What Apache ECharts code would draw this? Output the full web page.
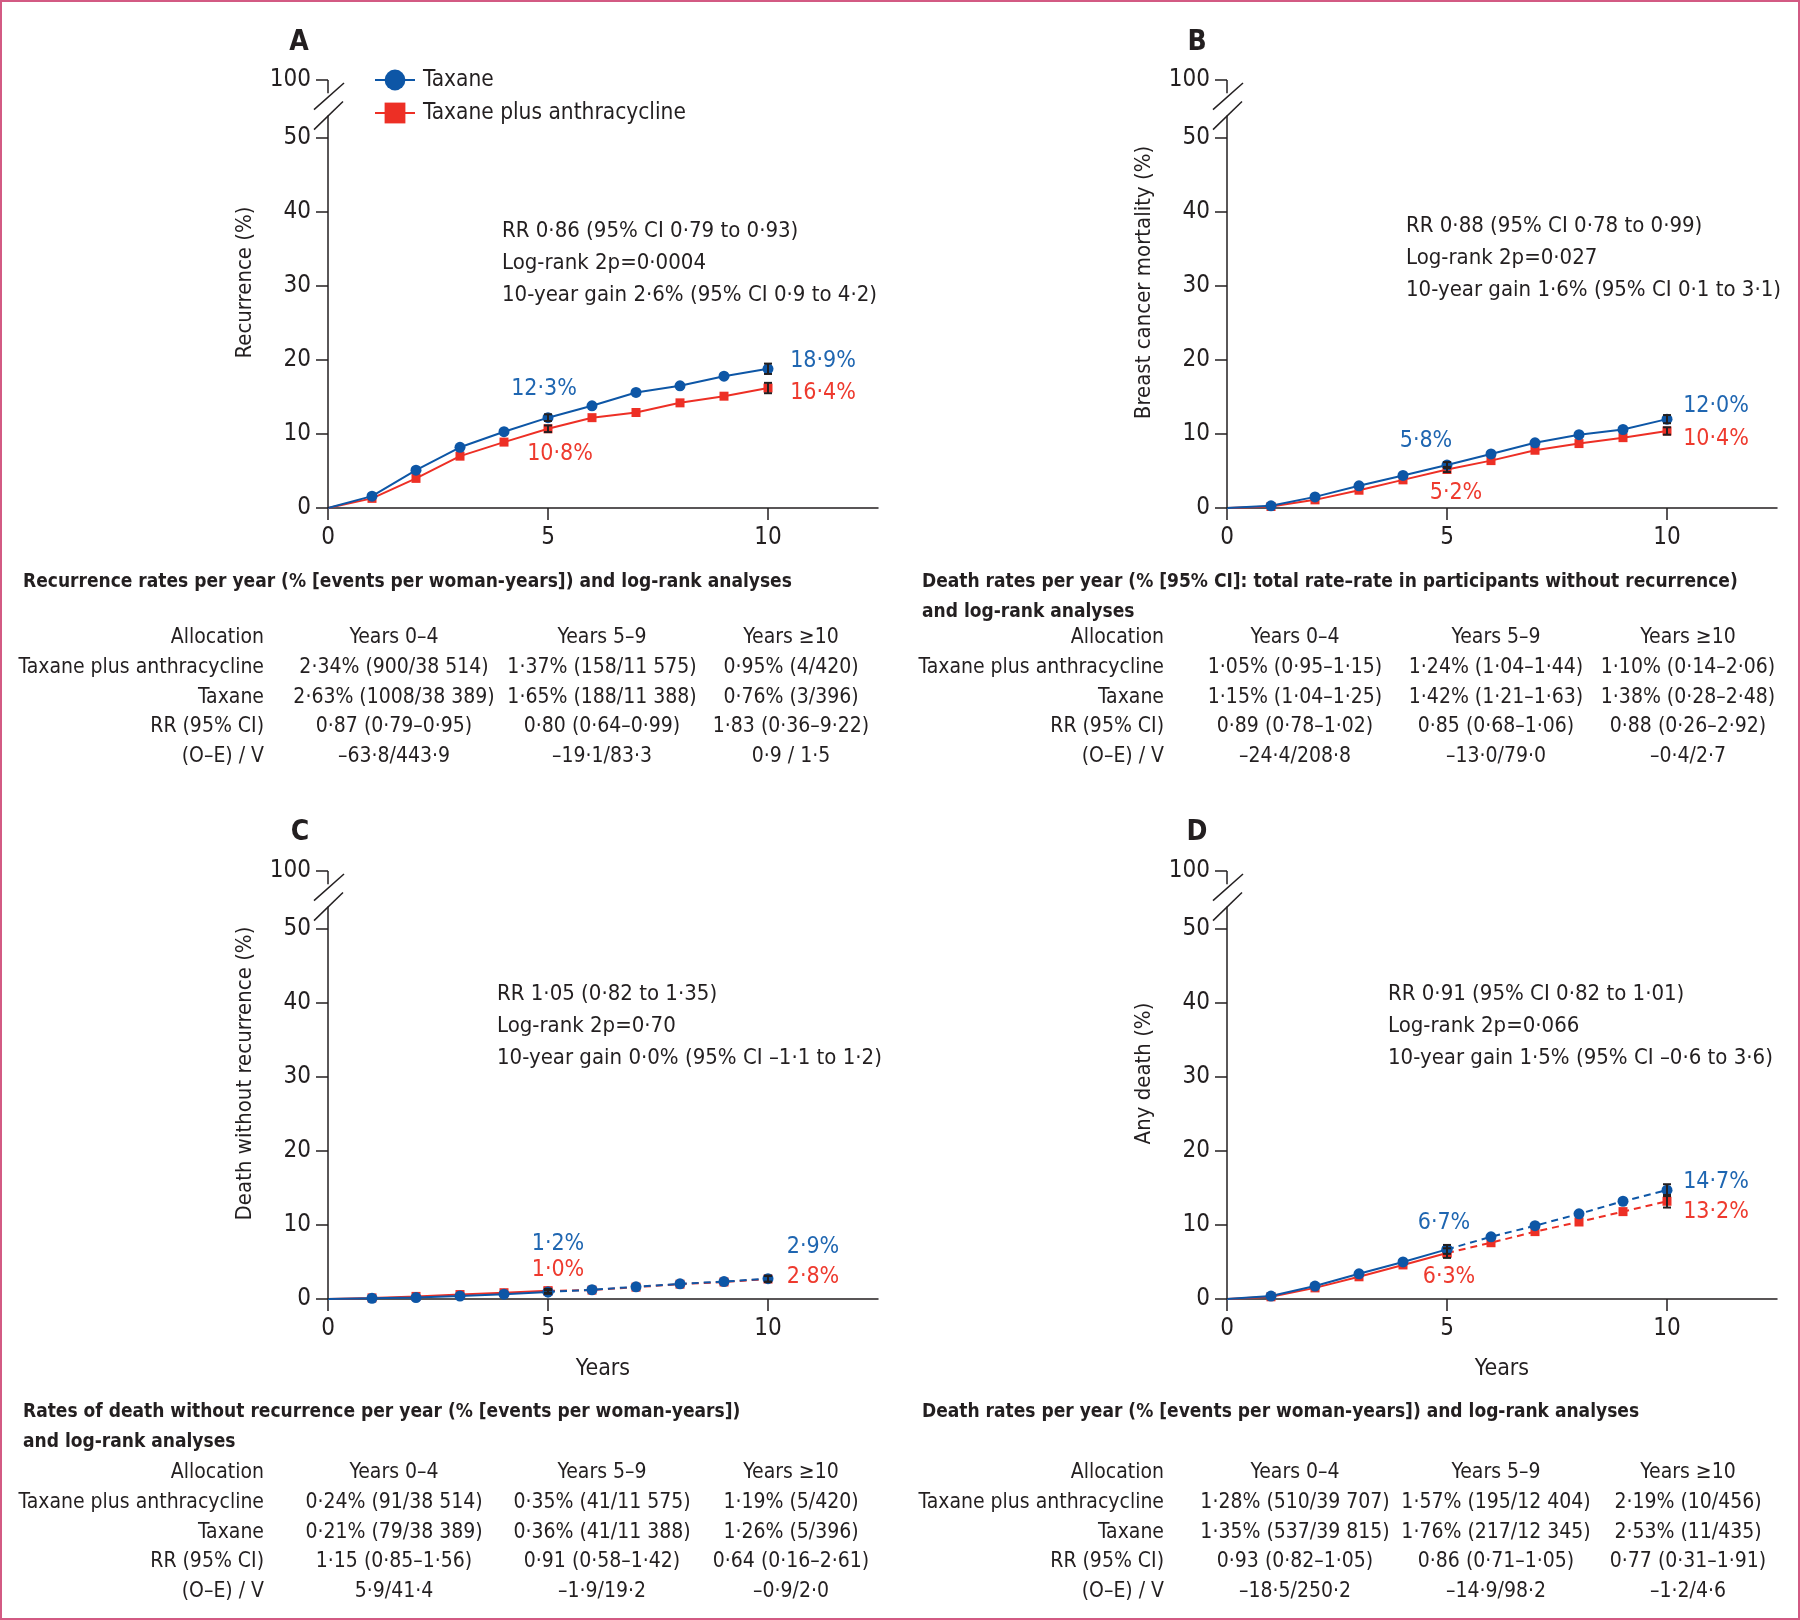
<!DOCTYPE html>
<html>
<head>
<meta charset="utf-8">
<script src="https://cdn.jsdelivr.net/npm/echarts@6/dist/echarts.min.js"></script>
<style>
html, body { margin: 0; padding: 0; background: #fff; }
#main { position: absolute; left: 0; top: 0; width: 1800px; height: 1620px; }
#frame { position: absolute; left: 0; top: 0; width: 1800px; height: 1620px; box-sizing: border-box; border: 2px solid #d35a83; pointer-events: none; }
</style>
</head>
<body>
<div id="main"></div>
<div id="frame"></div>
<script>
// data (cumulative %, by year)
var years = [0, 1, 2, 3, 4, 5, 6, 7, 8, 9, 10];

var recurTaxane = [0, 1.6, 5.1, 8.2, 10.3, 12.2, 13.8, 15.6, 16.5, 17.8, 18.8];
var recurTaxAnth = [0, 1.3, 4.0, 7.0, 8.9, 10.7, 12.2, 12.9, 14.2, 15.1, 16.2];
var bcmTaxane = [0, 0.3, 1.5, 3.0, 4.4, 5.8, 7.3, 8.8, 9.9, 10.6, 12.0];
var bcmTaxAnth = [0, 0.2, 1.1, 2.4, 3.8, 5.2, 6.4, 7.8, 8.7, 9.5, 10.4];
var dwrTaxane = [0, 0.1, 0.2, 0.4, 0.65, 0.95, 1.25, 1.65, 2.05, 2.35, 2.75];
var dwrTaxAnth = [0, 0.15, 0.35, 0.6, 0.85, 1.1, 1.2, 1.6, 2.0, 2.3, 2.7];
var anyTaxane = [0, 0.4, 1.75, 3.4, 5.0, 6.7, 8.4, 9.9, 11.5, 13.2, 14.7];
var anyTaxAnth = [0, 0.3, 1.5, 3.0, 4.6, 6.2, 7.6, 9.1, 10.4, 11.8, 13.2];

// error bars [year, low, high]
var errRecurTaxane = [[5, 11.75, 12.65], [10, 18.1, 19.5]];
var errRecurTaxAnth = [[5, 10.25, 11.15], [10, 15.5, 16.9]];
var errBcmTaxane = [[5, 5.4, 6.2], [10, 11.45, 12.55]];
var errBcmTaxAnth = [[5, 4.85, 5.55], [10, 9.9, 10.9]];
var errDwrTaxane = [[5, 0.7, 1.2], [10, 2.35, 3.15]];
var errDwrTaxAnth = [[5, 0.85, 1.35], [10, 2.3, 3.1]];
var errAnyTaxane = [[5, 6.1, 7.3], [10, 13.9, 15.5]];
var errAnyTaxAnth = [[5, 5.55, 6.85], [10, 12.35, 14.05]];

// taxane@5, taxane@10, tax+anth@5, tax+anth@10
var recurLabels = ['12·3%', '18·9%', '10·8%', '16·4%'];
var bcmLabels = ['5·8%', '12·0%', '5·2%', '10·4%'];
var dwrLabels = ['1·2%', '2·9%', '1·0%', '2·8%'];
var anyLabels = ['6·7%', '14·7%', '6·3%', '13·2%'];

var xTicks = [0, 5, 10];
var yTicks = [0, 10, 20, 30, 40, 50];
var seriesNames = ['Taxane', 'Taxane plus anthracycline'];
var yTitles = ['Recurrence (%)', 'Breast cancer mortality (%)', 'Death without recurrence (%)', 'Any death (%)'];
var panelLetters = ['A', 'B', 'C', 'D'];

var recurStats = ['RR 0·86 (95% CI 0·79 to 0·93)', 'Log-rank 2p=0·0004', '10-year gain 2·6% (95% CI 0·9 to 4·2)'];
var bcmStats = ['RR 0·88 (95% CI 0·78 to 0·99)', 'Log-rank 2p=0·027', '10-year gain 1·6% (95% CI 0·1 to 3·1)'];
var dwrStats = ['RR 1·05 (0·82 to 1·35)', 'Log-rank 2p=0·70', '10-year gain 0·0% (95% CI –1·1 to 1·2)'];
var anyStats = ['RR 0·91 (95% CI 0·82 to 1·01)', 'Log-rank 2p=0·066', '10-year gain 1·5% (95% CI –0·6 to 3·6)'];

var tableHead = ['Allocation', 'Years 0–4', 'Years 5–9', 'Years ≥10'];
var rowNames = ['Taxane plus anthracycline', 'Taxane', 'RR (95% CI)', '(O–E) / V'];
var recurTitle = 'Recurrence rates per year (% [events per woman-years]) and log-rank analyses';
var bcmTitle = 'Death rates per year (% [95% CI]: total rate–rate in participants without recurrence)\nand log-rank analyses';
var dwrTitle = 'Rates of death without recurrence per year (% [events per woman-years])\nand log-rank analyses';
var anyTitle = 'Death rates per year (% [events per woman-years]) and log-rank analyses';
var recurTable = [
    ['2·34% (900/38 514)', '1·37% (158/11 575)', '0·95% (4/420)'],
    ['2·63% (1008/38 389)', '1·65% (188/11 388)', '0·76% (3/396)'],
    ['0·87 (0·79–0·95)', '0·80 (0·64–0·99)', '1·83 (0·36–9·22)'],
    ['–63·8/443·9', '–19·1/83·3', '0·9 / 1·5']
];
var bcmTable = [
    ['1·05% (0·95–1·15)', '1·24% (1·04–1·44)', '1·10% (0·14–2·06)'],
    ['1·15% (1·04–1·25)', '1·42% (1·21–1·63)', '1·38% (0·28–2·48)'],
    ['0·89 (0·78–1·02)', '0·85 (0·68–1·06)', '0·88 (0·26–2·92)'],
    ['–24·4/208·8', '–13·0/79·0', '–0·4/2·7']
];
var dwrTable = [
    ['0·24% (91/38 514)', '0·35% (41/11 575)', '1·19% (5/420)'],
    ['0·21% (79/38 389)', '0·36% (41/11 388)', '1·26% (5/396)'],
    ['1·15 (0·85–1·56)', '0·91 (0·58–1·42)', '0·64 (0·16–2·61)'],
    ['5·9/41·4', '–1·9/19·2', '–0·9/2·0']
];
var anyTable = [
    ['1·28% (510/39 707)', '1·57% (195/12 404)', '2·19% (10/456)'],
    ['1·35% (537/39 815)', '1·76% (217/12 345)', '2·53% (11/435)'],
    ['0·93 (0·82–1·05)', '0·86 (0·71–1·05)', '0·77 (0·31–1·91)'],
    ['–18·5/250·2', '–14·9/98·2', '–1·2/4·6']
];

// styling / layout
var FONT = "'DejaVu Sans Condensed', 'Liberation Sans Narrow', 'Liberation Sans', sans-serif";
var INK = '#231f20';
var BLUE = '#0d56a6';
var RED = '#ed2f25';
var BLUE_TXT = '#1f66b1';
var RED_TXT = '#ee3a2e';
var X_MAX = 12.5;
var BREAK_TOP = 57.8;   // where the "100" tick sits above the axis break

var panels = [
    { left: 328, top: 80, tax: recurTaxane, anth: recurTaxAnth, errTax: errRecurTaxane, errAnth: errRecurTaxAnth,
      labels: recurLabels, offs: [[-4, -29], [55, -8], [12, 25], [55, 5]], dashed: false,
      stats: recurStats, statPos: [502, 215], title: recurTitle, table: recurTable, tableTop: 582, headY: 638,
      cols: [264, 394, 602, 791], letterPos: [299, 43] },
    { left: 1227, top: 80, tax: bcmTaxane, anth: bcmTaxAnth, errTax: errBcmTaxane, errAnth: errBcmTaxAnth,
      labels: bcmLabels, offs: [[-21, -24], [49, -13], [9, 24], [49, 8]], dashed: false,
      stats: bcmStats, statPos: [1406, 210], title: bcmTitle, table: bcmTable, tableTop: 582, headY: 638,
      cols: [1164, 1295, 1496, 1688], letterPos: [1197, 43] },
    { left: 328, top: 871, tax: dwrTaxane, anth: dwrTaxAnth, errTax: errDwrTaxane, errAnth: errDwrTaxAnth,
      labels: dwrLabels, offs: [[10, -48], [45, -32], [10, -21], [45, -2]], dashed: true,
      stats: dwrStats, statPos: [497, 978], title: dwrTitle, table: dwrTable, tableTop: 1412, headY: 1473,
      cols: [264, 394, 602, 791], letterPos: [300, 833] },
    { left: 1227, top: 871, tax: anyTaxane, anth: anyTaxAnth, errTax: errAnyTaxane, errAnth: errAnyTaxAnth,
      labels: anyLabels, offs: [[-3, -26], [49, -8], [2, 24], [49, 11]], dashed: true,
      stats: anyStats, statPos: [1388, 978], title: anyTitle, table: anyTable, tableTop: 1412, headY: 1473,
      cols: [1164, 1295, 1496, 1688], letterPos: [1197, 833] }
];
var GRID_W = 550, GRID_H = 428, ROW_H = 29.6;

function pts(vals, from, to, labelAt, color) {
    var out = [];
    for (var i = from; i <= to; i++) {
        var item = { value: [years[i], vals[i]] };
        if (i === 0) item.symbol = 'none';
        if (labelAt && labelAt[years[i]]) {
            var l = labelAt[years[i]];
            item.label = { show: true, position: 'inside', formatter: l[0], offset: l[1],
                color: color, fontSize: 23, fontFamily: FONT };
        }
        out.push(item);
    }
    return out;
}

function line(name, idx, data, color, symbol, size, dashed) {
    return {
        name: name, type: 'line', xAxisIndex: idx, yAxisIndex: idx,
        data: data, symbol: symbol, symbolSize: size, showSymbol: true,
        lineStyle: { color: color, width: 2, type: dashed ? [7, 5] : 'solid' },
        itemStyle: { color: color },
        animation: false, silent: true
    };
}

function errBars(idx, data) {
    return {
        type: 'custom', xAxisIndex: idx, yAxisIndex: idx, z: 5, silent: true, animation: false,
        encode: { x: 0, y: [1, 2] },
        renderItem: function (params, api) {
            var x = api.value(0);
            var lo = api.coord([x, api.value(1)]);
            var hi = api.coord([x, api.value(2)]);
            var w = 4, st = { stroke: INK, lineWidth: 2 };
            return { type: 'group', children: [
                { type: 'line', shape: { x1: lo[0], y1: lo[1], x2: hi[0], y2: hi[1] }, style: st },
                { type: 'line', shape: { x1: lo[0] - w, y1: lo[1], x2: lo[0] + w, y2: lo[1] }, style: st },
                { type: 'line', shape: { x1: hi[0] - w, y1: hi[1], x2: hi[0] + w, y2: hi[1] }, style: st }
            ] };
        },
        data: data
    };
}

var grids = [], xAxes = [], yAxes = [], series = [];
panels.forEach(function (p, i) {
    grids.push({ left: p.left, top: p.top, width: GRID_W, height: GRID_H });
    xAxes.push({
        gridIndex: i, type: 'value', min: 0, max: X_MAX,
        axisLine: { show: true, onZero: false, lineStyle: { color: INK, width: 1.5 } },
        axisTick: { show: true, customValues: xTicks, length: 12, lineStyle: { color: INK, width: 1.5 } },
        axisLabel: { customValues: xTicks, fontSize: 24, color: INK, fontFamily: FONT, margin: 18 },
        splitLine: { show: false },
        name: i >= 2 ? 'Years' : '', nameLocation: 'middle', nameGap: 59,
        nameTextStyle: { fontSize: 23, color: INK, fontFamily: FONT }
    });
    yAxes.push({
        gridIndex: i, type: 'value', min: 0, max: BREAK_TOP,
        axisLine: { show: false },
        axisTick: { show: true, customValues: yTicks.concat([BREAK_TOP]), length: 12, lineStyle: { color: INK, width: 1.5 } },
        axisLabel: { customValues: yTicks.concat([BREAK_TOP]), fontSize: 24, color: INK, fontFamily: FONT, margin: 17,
            formatter: function (v) { return v > 50 ? '100' : String(v); } },
        splitLine: { show: false },
        name: yTitles[i], nameLocation: 'middle', nameGap: 72, nameRotate: 90,
        nameTextStyle: { fontSize: 22, color: INK, fontFamily: FONT, padding: [0, 0, 0, 23] }
    });

    var taxLab = {}, anthLab = {};
    taxLab[5] = [p.labels[0], p.offs[0]];
    taxLab[10] = [p.labels[1], p.offs[1]];
    anthLab[5] = [p.labels[2], p.offs[2]];
    anthLab[10] = [p.labels[3], p.offs[3]];
    var end = p.dashed ? 5 : 10;
    series.push(line(seriesNames[1], i, pts(p.anth, 0, end, anthLab, RED_TXT), RED, 'rect', 9, false));
    series.push(line(seriesNames[0], i, pts(p.tax, 0, end, taxLab, BLUE_TXT), BLUE, 'circle', 11, false));
    if (p.dashed) {
        series.push(line(seriesNames[1], i, pts(p.anth, 5, 10, { 10: anthLab[10] }, RED_TXT), RED, 'rect', 9, true));
        series.push(line(seriesNames[0], i, pts(p.tax, 5, 10, { 10: taxLab[10] }, BLUE_TXT), BLUE, 'circle', 11, true));
    }
    series.push(errBars(i, p.errAnth));
    series.push(errBars(i, p.errTax));
});

var chart = echarts.init(document.getElementById('main'));
chart.setOption({
    backgroundColor: '#fff',
    animation: false,
    textStyle: { fontFamily: FONT, color: INK },
    legend: {
        data: seriesNames, orient: 'vertical', left: 369, top: 63,
        itemWidth: 40, itemHeight: 26, itemGap: 9, selectedMode: false,
        textStyle: { fontSize: 22.5, lineHeight: 24, color: INK, fontFamily: FONT, padding: [0, 0, 0, 3] }
    },
    grid: grids, xAxis: xAxes, yAxis: yAxes, series: series
});

// broken y-axis lines, panel letters, stats text and tables
var graphics = [];
function seg(x1, y1, x2, y2) {
    return { type: 'line', z: 10, silent: true, shape: { x1: x1, y1: y1, x2: x2, y2: y2 },
        style: { stroke: INK, lineWidth: 1.5 } };
}
function txt(x, y, s, size, align, weight, extra) {
    var style = { text: s, fill: INK, align: align, verticalAlign: 'middle',
        font: (weight || 'normal') + ' ' + size + 'px ' + FONT };
    if (extra) for (var k in extra) style[k] = extra[k];
    return { type: 'text', x: x, y: y, z: 10, silent: true, style: style };
}
panels.forEach(function (p, i) {
    var ax = chart.convertToPixel({ xAxisIndex: i }, 0);
    var py = function (v) { return chart.convertToPixel({ yAxisIndex: i }, v); };
    graphics.push(seg(ax, py(0), ax, py(53.0)));
    graphics.push(seg(ax, py(56.0), ax, py(BREAK_TOP)));
    graphics.push(seg(ax - 14, py(53.8), ax + 16, py(57.4)));
    graphics.push(seg(ax - 14, py(51.1), ax + 15, py(54.9)));

    graphics.push(txt(p.letterPos[0], p.letterPos[1], panelLetters[i], 28, 'center', 'bold'));
    graphics.push(txt(p.statPos[0], p.statPos[1], p.stats.join('\n'), 22, 'left', 'normal',
        { verticalAlign: 'top', lineHeight: 32 }));

    var tx = i % 2 === 0 ? 23 : 922;
    graphics.push(txt(tx, p.tableTop - 15, p.title, 19, 'left', 'bold', { verticalAlign: 'top', lineHeight: 30 }));
    graphics.push(txt(p.cols[0], p.headY, tableHead[0], 21, 'right'));
    for (var c = 1; c < 4; c++) graphics.push(txt(p.cols[c], p.headY, tableHead[c], 21, 'center'));
    p.table.forEach(function (row, r) {
        var y = p.headY + (r + 1) * ROW_H;
        graphics.push(txt(p.cols[0], y, rowNames[r], 21, 'right'));
        row.forEach(function (cell, c) {
            graphics.push(txt(p.cols[c + 1], y, cell, 21, 'center'));
        });
    });
});
chart.setOption({ graphic: graphics });
</script>
</body>
</html>
